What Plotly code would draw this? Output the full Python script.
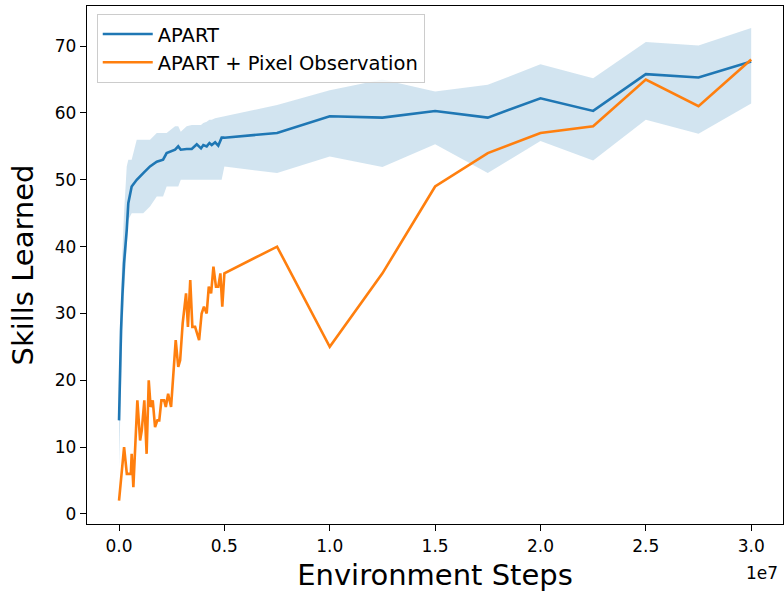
import plotly.graph_objects as go

# Environment steps in units of 1e7
apart_steps = [0, 0.0015, 0.005, 0.0095, 0.0157, 0.0237, 0.0366, 0.044, 0.060, 0.084,
               0.115, 0.147, 0.179, 0.209, 0.226, 0.266, 0.281, 0.293, 0.321, 0.345,
               0.369, 0.389, 0.400, 0.416, 0.429, 0.440, 0.456, 0.471, 0.487, 0.500,
               0.75, 1.0, 1.25, 1.5, 1.75, 2.0, 2.25, 2.5, 2.75, 3.0]
apart_mean = [14, 17, 22.5, 27.5, 32.5, 37.5, 42.5, 46.5, 49, 50,
              51, 52, 52.7, 53, 54, 54.5, 55, 54.5, 54.6, 54.6,
              55.3, 54.7, 55.2, 55, 55.5, 55.2, 55.6, 55.1, 56.3, 56.3,
              57.0, 59.5, 59.3, 60.3, 59.3, 62.2, 60.3, 65.8, 65.3, 67.7]
apart_lower = [7, 9, 15, 21, 27, 33, 39, 44, 45, 45,
               45, 46, 47.5, 47.5, 49, 49, 49, 50, 50, 50,
               50, 50, 50, 50, 50, 50, 50, 50, 50, 52,
               51.0, 53.5, 51.9, 55.3, 51.0, 55.8, 52.9, 59.0, 56.9, 61.4]
apart_upper = [14, 18, 26, 33, 39, 45, 52, 53, 53, 56,
               56, 56, 57, 57, 57, 58, 58, 57.2, 58, 58.2,
               58.2, 58.2, 58.5, 58.7, 59, 59, 59.2, 59.3, 59.4, 59.6,
               61.2, 63.4, 65.0, 63.2, 64.2, 67.3, 65.2, 70.6, 70.1, 72.7]

pixel_steps = [0, 0.024, 0.037, 0.056, 0.060, 0.068, 0.087, 0.100, 0.108, 0.120,
               0.131, 0.141, 0.150, 0.160, 0.171, 0.182, 0.191, 0.201, 0.214, 0.222,
               0.233, 0.247, 0.269, 0.281, 0.290, 0.302, 0.318, 0.327, 0.338, 0.348,
               0.361, 0.369, 0.380, 0.392, 0.403, 0.416, 0.426, 0.437, 0.448, 0.460,
               0.471, 0.481, 0.490, 0.500,
               0.75, 1.0, 1.25, 1.5, 1.75, 2.0, 2.25, 2.5, 2.75, 3.0]
pixel_skills = [2, 10, 6, 6, 9, 4, 17, 11, 12.5, 17,
                9, 20, 16, 17, 13, 14, 14, 17, 17, 16,
                18, 16, 26, 22, 23, 28.5, 33, 28, 35, 28,
                28, 27, 26, 30, 31, 30, 34, 33, 37, 34,
                34, 36, 31, 36,
                40, 25, 36, 49, 54, 57, 58, 65, 61, 68]

x_tickvals = [0, 0.5, 1.0, 1.5, 2.0, 2.5, 3.0]
x_ticktext = ["0.0", "0.5", "1.0", "1.5", "2.0", "2.5", "3.0"]
y_tickvals = [0, 10, 20, 30, 40, 50, 60, 70]

BLUE = "#1f77b4"
ORANGE = "#ff7f0e"
FONT = "DejaVu Sans"

fig = go.Figure()
fig.add_trace(go.Scatter(x=apart_steps, y=apart_upper, mode="lines",
                         line=dict(width=0), showlegend=False, hoverinfo="skip"))
fig.add_trace(go.Scatter(x=apart_steps, y=apart_lower, mode="lines",
                         line=dict(width=0), fill="tonexty",
                         fillcolor="rgba(31,119,180,0.2)", showlegend=False,
                         hoverinfo="skip"))
fig.add_trace(go.Scatter(x=apart_steps, y=apart_mean, mode="lines", name="APART",
                         line=dict(color=BLUE, width=2.6)))
fig.add_trace(go.Scatter(x=pixel_steps, y=pixel_skills, mode="lines",
                         name="APART + Pixel Observation",
                         line=dict(color=ORANGE, width=2.6)))

axis_common = dict(showline=True, linecolor="black", linewidth=1.3, mirror=True,
                   ticks="outside", ticklen=6, tickwidth=1.3, tickcolor="black",
                   showgrid=False, zeroline=False,
                   tickfont=dict(family=FONT, size=17, color="black"))

fig.update_xaxes(range=[-0.152, 3.151], tickvals=x_tickvals, ticktext=x_ticktext,
                 title=dict(text="Environment Steps",
                            font=dict(family=FONT, size=29, color="black"),
                            standoff=10),
                 **axis_common)
fig.update_yaxes(range=[-1.5, 76.0], tickvals=y_tickvals,
                 title=dict(text="Skills Learned",
                            font=dict(family=FONT, size=29, color="black"),
                            standoff=12),
                 **axis_common)

fig.add_annotation(text="1e7", xref="paper", yref="paper", x=0.995, y=-0.095,
                   xanchor="right", yanchor="middle", showarrow=False,
                   font=dict(family=FONT, size=17, color="black"))

fig.update_layout(
    width=784, height=596,
    margin=dict(l=87, r=1, t=6, b=72),
    plot_bgcolor="white", paper_bgcolor="white",
    legend=dict(x=0.014, y=0.985, xanchor="left", yanchor="top",
                traceorder="normal",
                bgcolor="rgba(255,255,255,0.8)", bordercolor="#cccccc",
                borderwidth=1, font=dict(family=FONT, size=19.5, color="black"),
                itemwidth=50, tracegroupgap=0),
)

fig.write_html("out.html")
